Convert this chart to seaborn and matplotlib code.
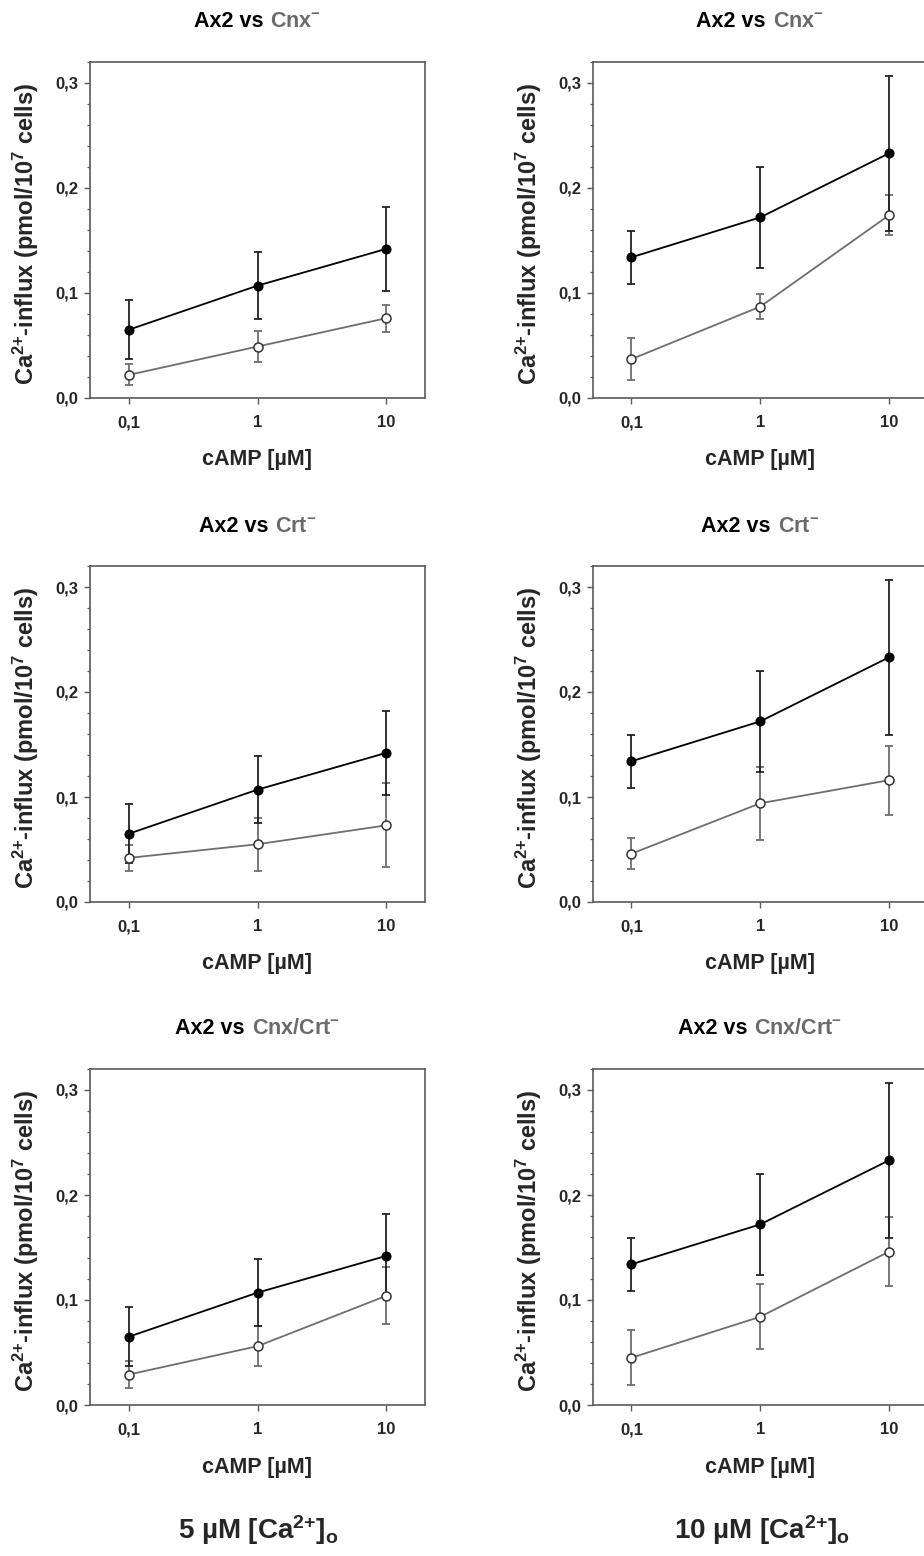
import numpy as np
import pandas as pd
import matplotlib
matplotlib.use("Agg")
import matplotlib.pyplot as plt
import seaborn as sns
from matplotlib.offsetbox import TextArea, HPacker, AnchoredOffsetbox
from matplotlib.ticker import FixedLocator, FixedFormatter, MultipleLocator, NullLocator

# x values (cAMP, µM) and tick labels
camp = [0.1, 1, 10]
x_tick_labels = ["0,1", "1", "10"]
y_ticks = [0.0, 0.1, 0.2, 0.3]
y_tick_labels = ["0,0", "0,1", "0,2", "0,3"]

mutants = ["Cnx", "Crt", "Cnx/Crt"]
conditions = ["5 µM", "10 µM"]

# wild type Ax2 (same in every row)
ax2_5 = [0.065, 0.107, 0.142]
ax2_5_err = [0.028, 0.032, 0.040]
ax2_10 = [0.134, 0.172, 0.233]
ax2_10_err = [0.025, 0.048, 0.074]

# mutants
cnx_5 = [0.022, 0.049, 0.076]
cnx_5_err = [0.010, 0.015, 0.013]
cnx_10 = [0.037, 0.087, 0.174]
cnx_10_err = [0.020, 0.012, 0.019]

crt_5 = [0.042, 0.055, 0.073]
crt_5_err = [0.012, 0.025, 0.040]
crt_10 = [0.046, 0.094, 0.116]
crt_10_err = [0.015, 0.035, 0.033]

cnxcrt_5 = [0.029, 0.056, 0.104]
cnxcrt_5_err = [0.013, 0.019, 0.027]
cnxcrt_10 = [0.045, 0.084, 0.146]
cnxcrt_10_err = [0.026, 0.031, 0.033]

mutant_data = {
    ("Cnx", "5 µM"): (cnx_5, cnx_5_err),
    ("Cnx", "10 µM"): (cnx_10, cnx_10_err),
    ("Crt", "5 µM"): (crt_5, crt_5_err),
    ("Crt", "10 µM"): (crt_10, crt_10_err),
    ("Cnx/Crt", "5 µM"): (cnxcrt_5, cnxcrt_5_err),
    ("Cnx/Crt", "10 µM"): (cnxcrt_10, cnxcrt_10_err),
}
wt_data = {"5 µM": (ax2_5, ax2_5_err), "10 µM": (ax2_10, ax2_10_err)}

rows = []
for mut in mutants:
    for cond in conditions:
        for strain, (vals, errs) in [("Ax2", wt_data[cond]), ("mutant", mutant_data[(mut, cond)])]:
            for c, v, e in zip(camp, vals, errs):
                rows.append({"row": mut, "cond": cond, "strain": strain,
                             "camp": c, "influx": v, "err": e})
df = pd.DataFrame(rows)

sns.set_style("ticks")
plt.rcParams["font.family"] = ["Liberation Sans", "DejaVu Sans"]
plt.rcParams["font.weight"] = "bold"
plt.rcParams["mathtext.default"] = "regular"

NARROW = ["Liberation Sans Narrow", "Liberation Sans", "DejaVu Sans"]
SPINE = "#5a5a5a"
GREY = "#6e6e6e"

W, H = 924, 1556
fig = plt.figure(figsize=(W / 100, H / 100), dpi=100)

col_left = [90, 592.7]
ax_w = 335
row_top = [62, 566, 1069]
ax_h = 336

for r, mut in enumerate(mutants):
    for c, cond in enumerate(conditions):
        ax = fig.add_axes([col_left[c] / W, 1 - (row_top[r] + ax_h) / H, ax_w / W, ax_h / H])
        sub = df[(df["row"] == mut) & (df["cond"] == cond)]
        wt = sub[sub["strain"] == "Ax2"]
        mu = sub[sub["strain"] == "mutant"]

        ax.errorbar(mu["camp"], mu["influx"], yerr=mu["err"], fmt="none",
                    ecolor=GREY, elinewidth=1.3, capsize=3.2, capthick=1.3, zorder=2)
        ax.errorbar(wt["camp"], wt["influx"], yerr=wt["err"], fmt="none",
                    ecolor="#222222", elinewidth=1.3, capsize=3.2, capthick=1.3, zorder=2)
        sns.lineplot(data=mu, x="camp", y="influx", ax=ax, color=GREY, lw=1.3,
                     marker="o", markersize=6.5, markerfacecolor="white",
                     markeredgecolor="#333333", markeredgewidth=1.1, errorbar=None, zorder=3)
        sns.lineplot(data=wt, x="camp", y="influx", ax=ax, color="black", lw=1.3,
                     marker="o", markersize=6.5, markerfacecolor="black",
                     markeredgecolor="black", errorbar=None, zorder=4)

        ax.set_xscale("log")
        ax.set_xlim(0.05, 20)
        ax.set_ylim(0, 0.32)
        ax.xaxis.set_major_locator(FixedLocator(camp))
        ax.xaxis.set_major_formatter(FixedFormatter(x_tick_labels))
        ax.xaxis.set_minor_locator(NullLocator())
        ax.yaxis.set_major_locator(FixedLocator(y_ticks))
        ax.yaxis.set_major_formatter(FixedFormatter(y_tick_labels))
        ax.yaxis.set_minor_locator(MultipleLocator(0.02))
        ax.tick_params(axis="both", which="major", direction="out", length=4.5,
                       width=1.0, color=SPINE, labelsize=12)
        ax.tick_params(axis="x", pad=8)
        ax.tick_params(axis="y", pad=4)
        ax.tick_params(axis="y", which="minor", direction="out", length=2.5,
                       width=0.9, color=SPINE)
        for lab in ax.get_xticklabels() + ax.get_yticklabels():
            lab.set_fontfamily(NARROW)
            lab.set_fontweight("bold")
        for sp in ax.spines.values():
            sp.set_color(SPINE)
            sp.set_linewidth(1.2)
            sp.set_visible(True)

        ax.set_xlabel("")
        ax.set_ylabel("")
        ax.text(0.5, -62 / ax_h, "cAMP [µM]", transform=ax.transAxes, ha="center",
                va="center", fontsize=15.5, fontweight="bold", family=NARROW)
        ax.text(-64 / ax_w, 0.49, "Ca$^{2{+}}$-influx (pmol/10$^{7}$ cells)",
                transform=ax.transAxes, ha="center", va="center", rotation=90,
                fontsize=17, fontweight="bold")

        t1 = TextArea("Ax2 vs", textprops=dict(color="black", fontsize=15.5, fontweight="bold"))
        t2 = TextArea(mut + "$^{-}$", textprops=dict(color="#6a6a6a", fontsize=15.5, fontweight="bold"))
        box = HPacker(children=[t1, t2], align="baseline", pad=0, sep=5)
        anchored = AnchoredOffsetbox(loc="center", child=box, frameon=False,
                                     bbox_to_anchor=(0.5, 1 + 40 / ax_h),
                                     bbox_transform=ax.transAxes, borderpad=0, pad=0)
        ax.add_artist(anchored)

fig.text(258 / W, 1 - 1530 / H, "5 µM [Ca$^{2{+}}$]$_{o}$", ha="center", va="center",
         fontsize=20, fontweight="bold", family=NARROW)
fig.text(762 / W, 1 - 1530 / H, "10 µM [Ca$^{2{+}}$]$_{o}$", ha="center", va="center",
         fontsize=20, fontweight="bold", family=NARROW)

fig.savefig("out.png", dpi=100, facecolor="white")
